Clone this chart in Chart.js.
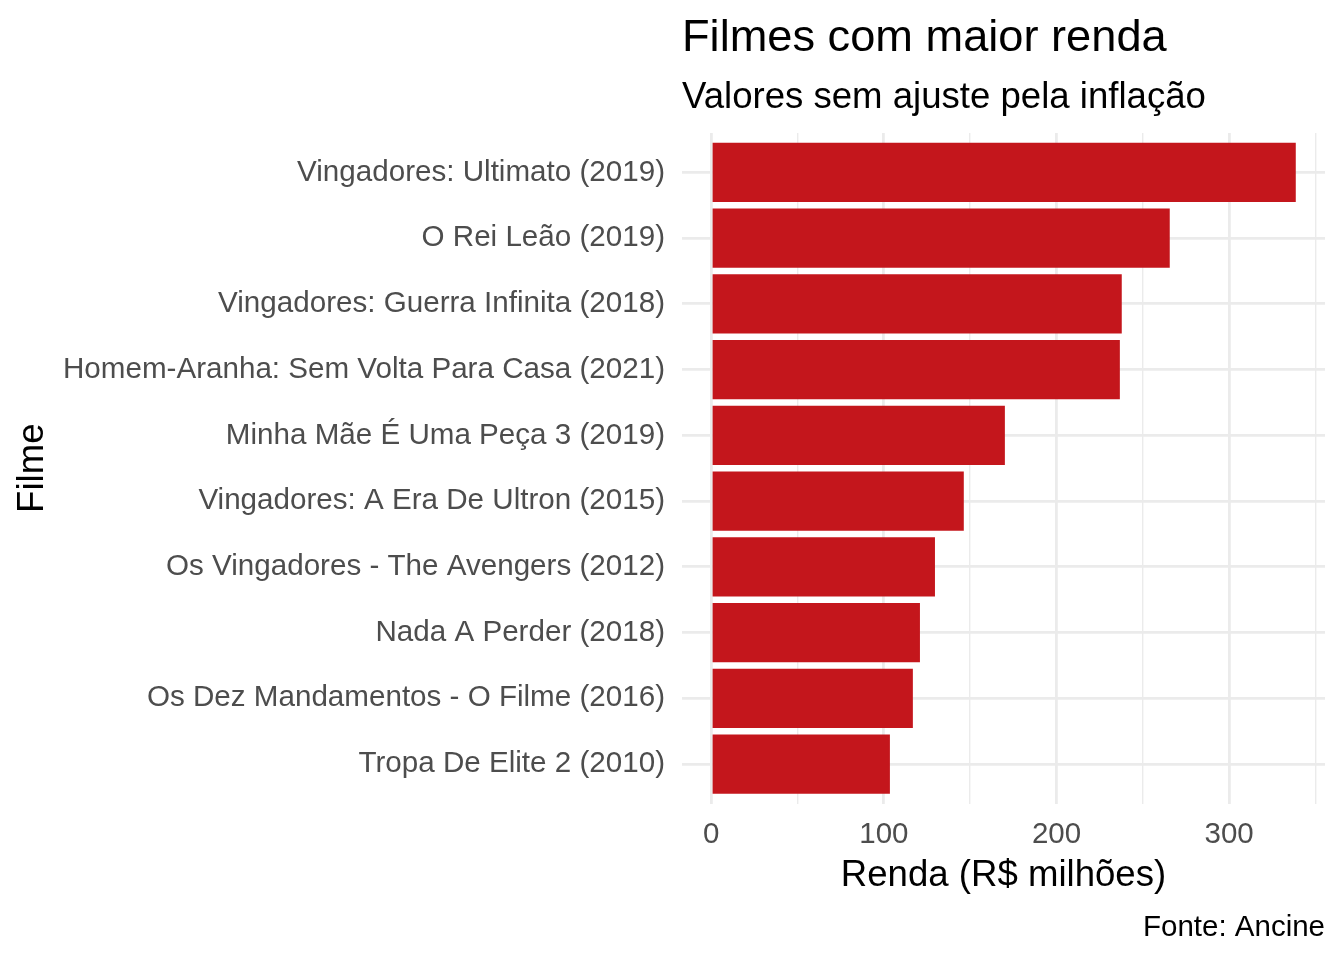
<!DOCTYPE html>
<html>
<head>
<meta charset="utf-8">
<script src="https://cdn.jsdelivr.net/npm/chart.js@4"></script>
<style>
  html, body { margin: 0; padding: 0; background: #ffffff; }
  #wrap { width: 1344px; height: 960px; }
</style>
</head>
<body>
<div id="wrap"><canvas id="c" width="1344" height="960"></canvas></div>
<script>
const categories = [
  "Vingadores: Ultimato (2019)",
  "O Rei Leão (2019)",
  "Vingadores: Guerra Infinita (2018)",
  "Homem-Aranha: Sem Volta Para Casa (2021)",
  "Minha Mãe É Uma Peça 3 (2019)",
  "Vingadores: A Era De Ultron (2015)",
  "Os Vingadores - The Avengers (2012)",
  "Nada A Perder (2018)",
  "Os Dez Mandamentos - O Filme (2016)",
  "Tropa De Elite 2 (2010)"
];
const renda = [338.6, 265.6, 237.8, 236.7, 170.1, 146.3, 129.6, 120.9, 116.8, 103.5];
const xTickValues = [0, 100, 200, 300];

const titleText = "Filmes com maior renda";
const subtitleText = "Valores sem ajuste pela inflação";
const xTitle = "Renda (R$ milhões)";
const yTitle = "Filme";
const captionText = "Fonte: Ancine";

const FONT = "'Liberation Sans', Arial, Helvetica, sans-serif";
const GRID = "#EBEBEB";
const xMax = Math.max(...renda);
const xExp = 0.05 * xMax;

const shiftTitles = {
  id: 'shiftTitles',
  afterLayout(chart) {
    chart.boxes.forEach(b => {
      if (b.options && b.options.text !== undefined && b.position === 'top' && !b.axis) {
        b.left = chart.chartArea.left;
      }
    });
  }
};

const caption = {
  id: 'caption',
  afterDraw(chart) {
    const ctx = chart.ctx;
    ctx.save();
    ctx.font = "29.5px " + FONT;
    ctx.fillStyle = "#000000";
    ctx.textAlign = "right";
    ctx.textBaseline = "alphabetic";
    ctx.fillText(captionText, chart.chartArea.right, 936);
    ctx.restore();
  }
};

new Chart(document.getElementById('c'), {
  type: 'bar',
  data: {
    datasets: [{
      data: renda.map((v, i) => ({ x: v, y: i })),
      backgroundColor: '#C4161C',
      borderWidth: 0,
      barPercentage: 0.9,
      categoryPercentage: 1.0
    }]
  },
  plugins: [shiftTitles, caption],
  options: {
    indexAxis: 'y',
    responsive: false,
    animation: false,
    devicePixelRatio: 1,
    layout: { padding: { top: 0, right: 19, bottom: 40, left: 0 } },
    plugins: {
      legend: { display: false },
      tooltip: { enabled: false },
      title: {
        display: true,
        text: titleText,
        align: 'start',
        color: '#000000',
        font: { family: FONT, size: 45.2, weight: 'normal' },
        padding: { top: 11.7, bottom: 0 }
      },
      subtitle: {
        display: true,
        text: subtitleText,
        align: 'start',
        color: '#000000',
        font: { family: FONT, size: 36.6, weight: 'normal' },
        padding: { top: 10.0, bottom: 13.1 }
      }
    },
    scales: {
      x: {
        type: 'linear',
        min: -xExp,
        max: xMax + xExp,
        afterFit(s) { s.height = 116.5; },
        border: { display: false },
        grid: {
          color: GRID,
          drawTicks: false,
          lineWidth: (c) => (c.tick && xTickValues.includes(c.tick.value)) ? 2.8 : 1.4
        },
        ticks: {
          stepSize: 50,
          includeBounds: false,
          autoSkip: false,
          maxRotation: 0,
          padding: 14,
          color: '#4D4D4D',
          font: { family: FONT, size: 29.5 },
          callback: (v) => xTickValues.includes(v) ? String(v) : ''
        },
        title: {
          display: true,
          text: xTitle,
          color: '#000000',
          font: { family: FONT, size: 36.6 },
          padding: { top: 0, bottom: 22 }
        }
      },
      y: {
        type: 'linear',
        offset: false,
        min: -0.6,
        max: categories.length - 1 + 0.6,
        reverse: true,
        afterFit(s) { s.width = 682; },
        border: { display: false },
        grid: { color: GRID, drawTicks: false, lineWidth: 2.8, offset: false },
        ticks: {
          stepSize: 1,
          includeBounds: false,
          autoSkip: false,
          padding: 17,
          color: '#4D4D4D',
          font: { family: FONT, size: 29.6 },
          callback: (v) => Number.isInteger(v) ? categories[v] : ''
        },
        title: {
          display: true,
          text: yTitle,
          color: '#000000',
          font: { family: FONT, size: 36.6 },
          padding: { top: 11.3, bottom: 0 }
        }
      }
    }
  }
});
</script>
</body>
</html>
